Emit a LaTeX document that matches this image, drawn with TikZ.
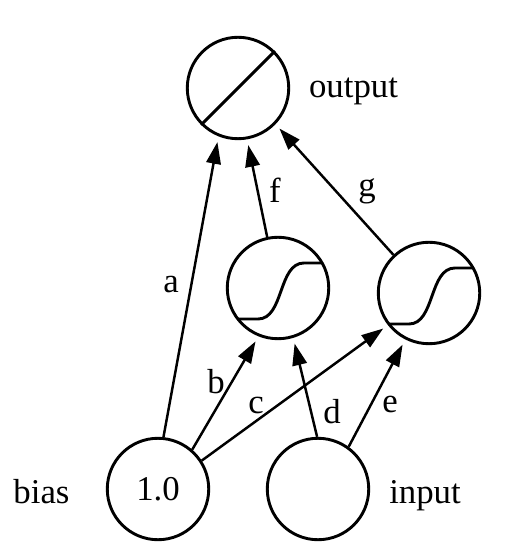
\documentclass[tikz,border=0pt]{standalone}
\usepackage{fontspec}
\setmainfont{Liberation Serif}
\usetikzlibrary{arrows.meta}
\begin{document}
\begin{tikzpicture}[
      x=0.345pt, y=-0.345pt,
      every node/.style={font=\fontsize{12}{14}\selectfont},
      unit/.style={circle, draw, line width=1pt, minimum size=35pt, inner sep=0pt},
      weight/.style={-{Triangle[length=7.5pt,width=5pt]}, line width=0.85pt, shorten >=2pt},
      lbl/.style={anchor=base, inner sep=0pt}
    ]
    \useasboundingbox (0,0) rectangle (516,556);

    \node[unit] (out) at (238,88) {};
    \node[unit] (h1) at (278,288) {};
    \node[unit] (h2) at (429,293) {};
    \node[unit] (bias) at (158,489) {1.0};
    \node[unit] (in) at (318,489) {};

    % transfer functions
    \draw[line width=1pt] (out.225) -- (out.45);
    \foreach \h in {h1,h2}
      \draw[line width=1pt, shift={(\h)}] (-40,31) -- (-20,31)
        .. controls (6,31) and (0,-25) .. (26,-25) -- (44,-25);

    \draw[weight] (bias.84) -- (out.248);
    \draw[weight] (h1.102) -- (out.280);
    \draw[weight] (h2.133) -- (out.316);
    \draw[weight] (bias.49) -- (h1.248);
    \draw[weight] (bias.33) -- (h2.218);
    \draw[weight] (in.91) -- (h1.287);
    \draw[weight] (in.54) -- (h2.243);

    \node[lbl] (la) at (171,293) {a};
    \node[lbl] (lb) at (216,393) {b};
    \node[lbl] (lc) at (256,413) {c};
    \node[lbl] (ld) at (332,423) {d};
    \node[lbl] (le) at (390,412) {e};
    \node[lbl] (lf) at (275,203) {f};
    \node[lbl] (lg) at (367,197) {g};

    \node[lbl] (tout) at (353.5,98) {output};
    \node[lbl] (tbias) at (41.5,503) {bias};
    \node[lbl] (tin) at (425,503) {input};

\end{tikzpicture}
\end{document}
